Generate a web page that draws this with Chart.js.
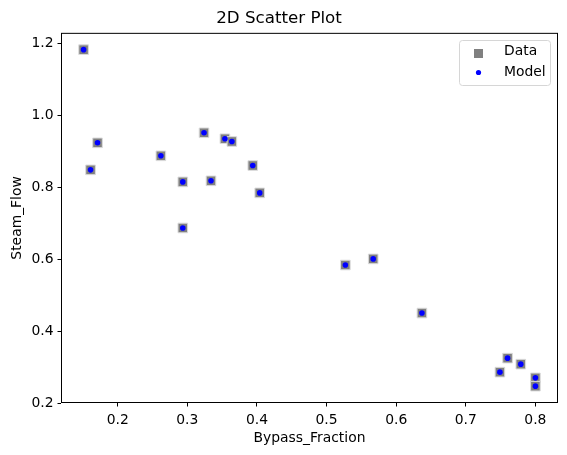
<!DOCTYPE html>
<html>
<head>
<meta charset="utf-8">
<script src="https://cdn.jsdelivr.net/npm/chart.js@4"></script>
<style>
  body { margin: 0; background: #fff; }
</style>
</head>
<body>
<canvas id="chart" width="567" height="455"></canvas>
<script>
// values
const bypassFraction = [0.151, 0.171, 0.161, 0.262, 0.2935, 0.2935, 0.324, 0.334, 0.354, 0.364,
                        0.394, 0.404, 0.527, 0.567, 0.637, 0.749, 0.760, 0.779, 0.800, 0.800];
const steamFlowData = [1.1825, 0.9236, 0.8485, 0.8875, 0.815, 0.687, 0.9515, 0.818, 0.935, 0.9273,
                       0.8605, 0.7845, 0.584, 0.601, 0.4505, 0.2863, 0.3252, 0.3085, 0.2704, 0.2473];
const steamFlowModel = [1.1825, 0.9236, 0.8485, 0.8875, 0.815, 0.687, 0.9515, 0.818, 0.935, 0.9273,
                        0.8605, 0.7845, 0.584, 0.601, 0.4505, 0.2863, 0.3252, 0.3085, 0.2704, 0.2473];
const xTicks = [0.2, 0.3, 0.4, 0.5, 0.6, 0.7, 0.8];
const yTicks = [0.2, 0.4, 0.6, 0.8, 1.0, 1.2];
const seriesNames = ['Data', 'Model'];

const FONT = 'DejaVu Sans';

const toPoints = (xs, ys) => xs.map((x, i) => ({ x: x, y: ys[i] }));

// 5% margin around the data, like the original plot
const pad = (arr) => {
    const lo = Math.min(...arr), hi = Math.max(...arr);
    const m = (hi - lo) * 0.05;
    return [lo - m, hi + m];
};
const [xMin, xMax] = pad(bypassFraction);
const [yMin, yMax] = pad(steamFlowData);

// frame around the plot + legend box in the upper right
const framePlugin = {
    id: 'frame',
    afterDraw(chart) {
        const { ctx, chartArea: a } = chart;
        ctx.save();
        ctx.strokeStyle = '#000';
        ctx.lineWidth = 1;
        ctx.strokeRect(a.left + 0.5, a.top + 0.5, a.right - a.left - 1, a.bottom - a.top - 1);

        // legend
        const bx = 459.5, by = 40.5, bw = 91, bh = 45;
        ctx.beginPath();
        ctx.roundRect(bx, by, bw, bh, 3);
        ctx.fillStyle = 'rgba(255,255,255,0.8)';
        ctx.fill();
        ctx.strokeStyle = '#d6d6d6';
        ctx.stroke();

        ctx.fillStyle = '#808080';
        ctx.fillRect(474, 49, 9, 9);
        ctx.beginPath();
        ctx.arc(478.5, 72.5, 2.6, 0, Math.PI * 2);
        ctx.fillStyle = '#0000ff';
        ctx.fill();

        ctx.fillStyle = '#000';
        ctx.font = '13.9px "' + FONT + '"';
        ctx.textBaseline = 'middle';
        ctx.textAlign = 'left';
        ctx.fillText(seriesNames[0], 504, 51);
        ctx.fillText(seriesNames[1], 504, 72);
        ctx.restore();
    }
};

new Chart(document.getElementById('chart'), {
    type: 'scatter',
    data: {
        datasets: [
            {
                label: seriesNames[0],
                data: toPoints(bypassFraction, steamFlowData),
                pointStyle: 'rect',
                pointRadius: 6.8,
                backgroundColor: '#808080',
                borderColor: '#dcdcdc',
                borderWidth: 1,
                order: 1
            },
            {
                label: seriesNames[1],
                data: toPoints(bypassFraction, steamFlowModel),
                pointStyle: 'circle',
                pointRadius: 2.8,
                backgroundColor: '#0000ff',
                borderWidth: 0,
                order: 0
            }
        ]
    },
    options: {
        responsive: false,
        animation: false,
        events: [],
        layout: { padding: { left: 0, right: 9, top: 0, bottom: 0 } },
        plugins: {
            legend: { display: false },
            tooltip: { enabled: false },
            title: {
                display: true,
                text: '2D Scatter Plot',
                color: '#000',
                font: { family: FONT, size: 16.7, weight: 'normal' },
                padding: { top: 9, bottom: 3.8 }
            }
        },
        scales: {
            x: {
                type: 'linear',
                min: xMin,
                max: xMax,
                afterBuildTicks: s => { s.ticks = xTicks.map(v => ({ value: v })); },
                afterFit: s => { s.height = 52; },
                grid: { display: true, drawOnChartArea: false, drawTicks: true, tickLength: 3.5, color: '#000' },
                border: { display: false },
                ticks: {
                    color: '#000',
                    padding: 6,
                    maxRotation: 0,
                    font: { family: FONT, size: 13.9 },
                    callback: v => v.toFixed(1)
                },
                title: {
                    display: true,
                    text: 'Bypass_Fraction',
                    color: '#000',
                    font: { family: FONT, size: 13.9 },
                    padding: { top: 4, bottom: 8 }
                }
            },
            y: {
                type: 'linear',
                min: yMin,
                max: yMax,
                afterBuildTicks: s => { s.ticks = yTicks.map(v => ({ value: v })); },
                afterFit: s => { s.width = 61; },
                grid: { display: true, drawOnChartArea: false, drawTicks: true, tickLength: 3.5, color: '#000' },
                border: { display: false },
                ticks: {
                    color: '#000',
                    padding: 4,
                    font: { family: FONT, size: 13.9 },
                    callback: v => v.toFixed(1)
                },
                title: {
                    display: true,
                    text: 'Steam_Flow',
                    color: '#000',
                    font: { family: FONT, size: 13.9 },
                    padding: { top: 9, bottom: 4 }
                }
            }
        }
    },
    plugins: [framePlugin]
});
</script>
</body>
</html>
